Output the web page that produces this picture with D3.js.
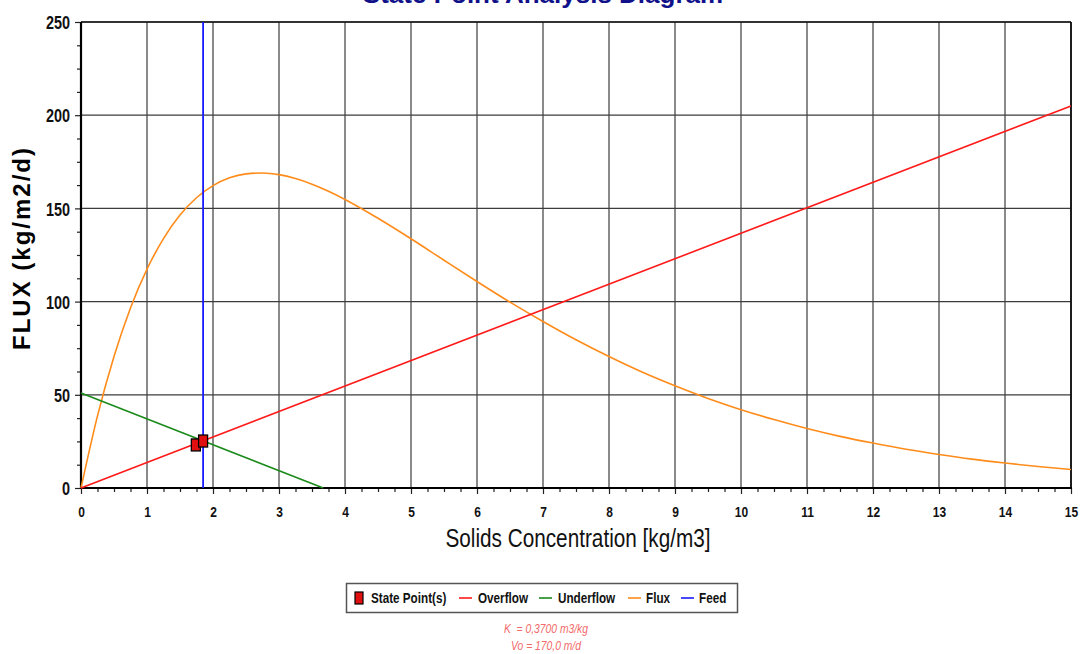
<!DOCTYPE html>
<html>
<head>
<meta charset="utf-8">
<script src="https://cdn.jsdelivr.net/npm/d3@7"></script>
<style>
  html, body { margin: 0; padding: 0; background: #fff; }
  svg { display: block; }
</style>
</head>
<body>
<svg id="chart" width="1085" height="654"></svg>
<script>
// Settling flux curve: solids concentration (kg/m3) vs flux (kg/m2/d)
const fluxConc = [0, 0.25, 0.5, 0.75, 1, 1.25, 1.5, 1.75, 2, 2.25, 2.5, 2.75, 3, 3.25, 3.5, 3.75, 4,
  4.5, 5, 5.5, 6, 6.5, 7, 7.5, 8, 8.5, 9, 9.5, 10, 10.5, 11, 11.5, 12, 12.5, 13, 13.5, 14, 14.5, 15];
const fluxValues = [0, 38.7, 70.6, 96.6, 117.4, 133.8, 146.4, 155.7, 162.2, 166.4, 168.5, 169.0, 168.1,
  166.0, 163.0, 159.2, 154.8, 144.7, 133.7, 122.2, 110.8, 99.7, 89.3, 79.5, 70.5, 62.2, 54.8, 48.0,
  42.0, 36.7, 31.9, 27.7, 24.1, 20.8, 18.0, 15.5, 13.4, 11.5, 9.9];

// Overflow and underflow operating lines (end points)
const overflowConc = [0, 15];
const overflowValues = [0, 205];
const underflowConc = [0, 3.67];
const underflowValues = [51, 0];

// Feed concentration
const feedConc = 1.85;

// State points
const stateConc = [1.74, 1.85];
const stateFlux = [23.1, 25.2];

// Axis ticks
const xTicks = d3.range(0, 16, 1);
const yTicks = [0, 50, 100, 150, 200, 250];

const legendItems = ["State Point(s)", "Overflow", "Underflow", "Flux", "Feed"];
const paramLines = ["K  = 0,3700 m3/kg", "Vo = 170,0 m/d"];

const svg = d3.select("#chart");
const plotLeft = 81, plotRight = 1071, plotTop = 22, plotBottom = 488;

const x = d3.scaleLinear().domain([0, 15]).range([plotLeft, plotRight]);
const y = d3.scaleLinear().domain([0, 250]).range([plotBottom, plotTop]);

const sans = "'Liberation Sans', Arial, sans-serif";

// Condensed text: regular face squeezed horizontally
function narrowText(parent, px, py, sx, str) {
  return parent.append("g")
    .attr("transform", `translate(${px},${py}) scale(${sx},1)`)
    .append("text")
    .attr("font-family", sans)
    .text(str);
}

// Title (sits at the very top edge)
svg.append("text")
  .attr("x", 543).attr("y", 3)
  .attr("text-anchor", "middle")
  .attr("font-family", sans)
  .attr("font-weight", "bold")
  .attr("font-size", 26)
  .attr("fill", "#10108a")
  .text("State Point Analysis Diagram");

// Grid
const grid = svg.append("g");
grid.selectAll("line.vx").data(xTicks.slice(1)).join("line")
  .attr("x1", d => x(d)).attr("x2", d => x(d))
  .attr("y1", plotTop).attr("y2", plotBottom)
  .attr("stroke", "#3c3c3c").attr("stroke-width", 1.2);
grid.selectAll("line.hy").data(yTicks.slice(1)).join("line")
  .attr("x1", plotLeft).attr("x2", plotRight)
  .attr("y1", d => y(d)).attr("y2", d => y(d))
  .attr("stroke", "#3c3c3c").attr("stroke-width", 1.2);

// Frame top & right
svg.append("line").attr("x1", plotLeft).attr("x2", plotRight).attr("y1", plotTop).attr("y2", plotTop)
  .attr("stroke", "#111").attr("stroke-width", 1.5);
svg.append("line").attr("x1", plotRight).attr("x2", plotRight).attr("y1", plotTop).attr("y2", plotBottom)
  .attr("stroke", "#111").attr("stroke-width", 1.8);

// Axes
const xAxis = d3.axisBottom(x).tickValues(xTicks).tickSize(6).tickPadding(12).tickFormat(d3.format("d"));
const xMinor = d3.axisBottom(x).tickValues(d3.range(0, 15.01, 0.25).filter(v => v % 1 !== 0))
  .tickSize(4).tickFormat("");
const yAxis = d3.axisLeft(y).tickValues(yTicks).tickSize(6).tickPadding(4).tickFormat(d3.format("d"));
const yMinor = d3.axisLeft(y).tickValues(d3.range(0, 250.01, 12.5).filter(v => v % 50 !== 0))
  .tickSize(4).tickFormat("");

function styleAxis(g) {
  g.select(".domain").remove();
  g.selectAll(".tick line").attr("stroke", "#222").attr("stroke-width", 1.2);
  g.selectAll(".tick text")
    .attr("font-family", sans).attr("font-weight", "bold")
    .attr("fill", "#111");
}

svg.append("g").attr("transform", `translate(0,${plotBottom})`).call(xMinor).call(styleAxis);
svg.append("g").attr("transform", `translate(0,${plotBottom})`).call(xAxis).call(styleAxis)
  .selectAll(".tick text").attr("font-size", 15).attr("transform", "scale(0.8,1)");
const ySx = 0.76;
svg.append("g").attr("transform", `translate(${plotLeft},0)`).call(yMinor).call(styleAxis);
svg.append("g").attr("transform", `translate(${plotLeft},0)`).call(yAxis).call(styleAxis)
  .selectAll(".tick text").attr("font-size", 19).attr("dy", "0.35em")
  .attr("x", -11 / ySx).attr("transform", `scale(${ySx},1)`);

// Axis lines
svg.append("line").attr("x1", plotLeft).attr("x2", plotLeft).attr("y1", plotTop).attr("y2", plotBottom + 1)
  .attr("stroke", "#000").attr("stroke-width", 2.2);
svg.append("line").attr("x1", plotLeft - 1).attr("x2", plotRight + 1).attr("y1", plotBottom).attr("y2", plotBottom)
  .attr("stroke", "#000").attr("stroke-width", 2.2);

// Axis titles
svg.append("text")
  .attr("transform", "translate(30,248) rotate(-90)")
  .attr("text-anchor", "middle")
  .attr("font-family", sans)
  .attr("font-weight", "bold").attr("font-size", 24)
  .attr("letter-spacing", 2)
  .attr("fill", "#000")
  .text("FLUX (kg/m2/d)");

narrowText(svg, 578, 547, 0.83, "Solids Concentration [kg/m3]")
  .attr("text-anchor", "middle")
  .attr("font-size", 25)
  .attr("fill", "#111");

// Series lines
const line = d3.line().x(d => x(d[0])).y(d => y(d[1]));
const plot = svg.append("g");

plot.append("path")
  .datum(fluxConc.map((c, i) => [c, fluxValues[i]]))
  .attr("d", line.curve(d3.curveMonotoneX))
  .attr("fill", "none").attr("stroke", "#ff8c1a").attr("stroke-width", 1.6);

line.curve(d3.curveLinear);
plot.append("path")
  .datum(overflowConc.map((c, i) => [c, overflowValues[i]]))
  .attr("d", line)
  .attr("fill", "none").attr("stroke", "#ff1a1a").attr("stroke-width", 1.6);

plot.append("path")
  .datum(underflowConc.map((c, i) => [c, underflowValues[i]]))
  .attr("d", line)
  .attr("fill", "none").attr("stroke", "#1a8a1a").attr("stroke-width", 1.6);

plot.append("line")
  .attr("x1", x(feedConc)).attr("x2", x(feedConc))
  .attr("y1", plotTop).attr("y2", plotBottom)
  .attr("stroke", "#1a1aff").attr("stroke-width", 1.8);

// State point markers
plot.selectAll("rect.sp").data(stateConc.map((c, i) => [c, stateFlux[i]])).join("rect")
  .attr("x", d => x(d[0]) - 4.5).attr("y", d => y(d[1]) - 6)
  .attr("width", 9).attr("height", 12)
  .attr("fill", "#e01010").attr("stroke", "#000").attr("stroke-width", 1.3);

// Legend
const legend = svg.append("g");
legend.append("rect")
  .attr("x", 346.5).attr("y", 583.5).attr("width", 391).attr("height", 29)
  .attr("fill", "#fff").attr("stroke", "#555").attr("stroke-width", 1.5);

const legendColors = ["#e01010", "#ff1a1a", "#1a8a1a", "#ff8c1a", "#1a1aff"];
const legendSwatchX = [355, 459, 539, 628, 681];
const legendTextX = [371, 478, 558, 646, 699];
legendItems.forEach((name, i) => {
  if (i === 0) {
    legend.append("rect").attr("x", legendSwatchX[i]).attr("y", 592)
      .attr("width", 8).attr("height", 12)
      .attr("fill", legendColors[i]).attr("stroke", "#000").attr("stroke-width", 1.2);
  } else {
    legend.append("line").attr("x1", legendSwatchX[i]).attr("x2", legendSwatchX[i] + 13)
      .attr("y1", 598).attr("y2", 598)
      .attr("stroke", legendColors[i]).attr("stroke-width", 1.6);
  }
  narrowText(legend, legendTextX[i], 603, 0.78, name)
    .attr("font-weight", "bold").attr("font-size", 15)
    .attr("fill", "#111");
});

// Model parameters
paramLines.forEach((str, i) => {
  narrowText(svg, 546, 633 + i * 17, 0.86, str)
    .attr("text-anchor", "middle")
    .attr("font-style", "italic").attr("font-size", 12)
    .attr("fill", "#f26a6a")
    .style("white-space", "pre");
});
</script>
</body>
</html>
